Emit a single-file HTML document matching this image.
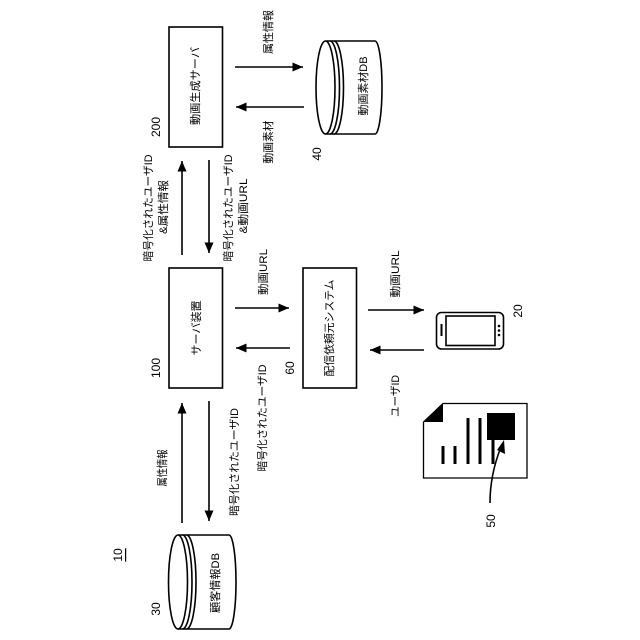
<!DOCTYPE html>
<html><head><meta charset="utf-8"><style>
html,body{margin:0;padding:0;background:#fff}
svg{display:block}
text{font-family:"Liberation Sans","Noto Sans CJK JP",sans-serif;font-size:11px;fill:#000;text-anchor:middle;dominant-baseline:central}
.n{font-size:12px}
</style></head><body>
<svg width="640" height="640" viewBox="0 0 640 640" xmlns="http://www.w3.org/2000/svg">
<defs>
<marker id="a" markerUnits="userSpaceOnUse" markerWidth="11" markerHeight="9" refX="10.5" refY="4.500" orient="auto"><path d="M0,0L10.5,4.500L0,9Z" fill="#000"/></marker>
</defs>
<g fill="none" stroke="#000" stroke-width="1.600">
<rect x="169" y="27" width="53.5" height="120"/>
<rect x="169" y="268" width="53.5" height="120"/>
<rect x="303" y="268" width="53.5" height="120"/>
<g marker-end="url(#a)">
<path d="M235,67H303"/>
<path d="M304,107H236"/>
<path d="M182,255V161"/>
<path d="M209,160V253"/>
<path d="M235,308H289"/>
<path d="M290,348H236"/>
<path d="M182,523V403"/>
<path d="M209,401V521"/>
<path d="M368,310H424"/>
<path d="M424,350H370"/>
</g>
<!-- DB 40 -->
<path d="M325.500,41H375A7,46.500 0 0 1 375,134H325.500"/>
<ellipse cx="325.500" cy="87.500" rx="9.500" ry="46.500"/>
<path d="M330,41A9.500,46.500 0 0 1 330,134"/>
<path d="M334,41A9.500,46.500 0 0 1 334,134"/>
<!-- DB 30 -->
<path d="M178,535H229A7,47 0 0 1 229,629H178"/>
<ellipse cx="178" cy="582" rx="9.500" ry="47"/>
<path d="M182.500,535A9.500,47 0 0 1 182.500,629"/>
<path d="M186.500,535A9.500,47 0 0 1 186.500,629"/>
<!-- phone -->
<rect x="436.500" y="312.500" width="67" height="36.500" rx="5"/>
<rect x="446" y="316" width="49" height="29.500"/>
<path d="M441.500,324V336" stroke-width="2"/>
</g>
<!-- document -->
<path d="M443,403.500H527V478H423.500V422Z" fill="none" stroke="#000" stroke-width="1.300"/>
<circle cx="499" cy="326" r="1.300"/><circle cx="499" cy="330.500" r="1.300"/><circle cx="499" cy="335" r="1.300"/>
<path d="M423,422L443,403V422Z"/>
<rect x="487" y="413" width="28" height="27"/>
<g stroke="#000" stroke-width="3" fill="none">
<path d="M443,446V464M455,446V464M468,418V464M480,418V464M493,440V464"/>
</g>
<path d="M490,503C490,482 495,462 501,447" fill="none" stroke="#000" stroke-width="1.600"/>
<path d="M504,440L505,454L497,450Z"/>

<g transform="translate(1,0)">
<text transform="translate(268,32) rotate(-90)" textLength="44" lengthAdjust="spacingAndGlyphs">属性情報</text>
<text transform="translate(268,142) rotate(-90)" textLength="43" lengthAdjust="spacingAndGlyphs">動画素材</text>
<text transform="translate(363,86) rotate(-90)" textLength="59" lengthAdjust="spacingAndGlyphs">動画素材DB</text>
<text transform="translate(195,86) rotate(-90)" textLength="78" lengthAdjust="spacingAndGlyphs">動画生成サーバ</text>
<text transform="translate(148,208) rotate(-90)" textLength="107" lengthAdjust="spacingAndGlyphs">暗号化されたユーザID</text>
<text transform="translate(163,207) rotate(-90)" textLength="54" lengthAdjust="spacingAndGlyphs">&amp;属性情報</text>
<text transform="translate(228,208) rotate(-90)" textLength="107" lengthAdjust="spacingAndGlyphs">暗号化されたユーザID</text>
<text transform="translate(243,206) rotate(-90)" textLength="55" lengthAdjust="spacingAndGlyphs">&amp;動画URL</text>
<text transform="translate(263,272) rotate(-90)" textLength="46" lengthAdjust="spacingAndGlyphs">動画URL</text>
<text transform="translate(395,274) rotate(-90)" textLength="47" lengthAdjust="spacingAndGlyphs">動画URL</text>
<text transform="translate(196,328) rotate(-90)" textLength="55" lengthAdjust="spacingAndGlyphs">サーバ装置</text>
<text transform="translate(329,328) rotate(-90)" textLength="97" lengthAdjust="spacingAndGlyphs">配信依頼元システム</text>
<text transform="translate(262,418) rotate(-90)" textLength="107" lengthAdjust="spacingAndGlyphs">暗号化されたユーザID</text>
<text transform="translate(234,462) rotate(-90)" textLength="108" lengthAdjust="spacingAndGlyphs">暗号化されたユーザID</text>
<text transform="translate(162,468) rotate(-90)" textLength="37" lengthAdjust="spacingAndGlyphs">属性情報</text>
<text transform="translate(395,396) rotate(-90)" textLength="42" lengthAdjust="spacingAndGlyphs">ユーザID</text>
<text transform="translate(215,583) rotate(-90)" textLength="60" lengthAdjust="spacingAndGlyphs">顧客情報DB</text>
<text class="n" transform="translate(155,127) rotate(-90)">200</text>
<text class="n" transform="translate(316,154) rotate(-90)">40</text>
<text class="n" transform="translate(155,368) rotate(-90)">100</text>
<text class="n" transform="translate(289,368) rotate(-90)">60</text>
<text class="n" transform="translate(517,311) rotate(-90)">20</text>
<text class="n" transform="translate(490,521) rotate(-90)">50</text>
<text class="n" transform="translate(155,609) rotate(-90)">30</text>
<text class="n" transform="translate(117,555) rotate(-90)" text-decoration="underline">10</text>
</g>
</svg>
</body></html>
